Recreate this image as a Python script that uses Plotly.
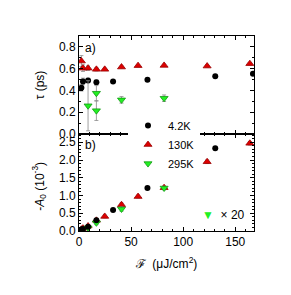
import plotly.graph_objects as go
from plotly.subplots import make_subplots

# ---- data ----
tau_x_4K = [2.3, 3.8, 8.7, 16.7, 32.7, 65.7, 130.8, 167]
tau_4K = [0.425, 0.483, 0.492, 0.476, 0.483, 0.498, 0.53, 0.554]
tau_4K_err = [0.03, 0.03, 0.02, 0.02, 0.01, 0.01, 0.01, 0.01]

tau_x_130K = [2.3, 3.8, 8.7, 16.7, 24.7, 40.8, 56.7, 81.7, 123, 164]
tau_130K = [0.67, 0.605, 0.605, 0.594, 0.594, 0.615, 0.628, 0.63, 0.624, 0.646]
tau_130K_err = [0.05, 0.03, 0.02, 0.015, 0.01, 0.01, 0.01, 0.01, 0.01, 0.01]

tau_x_295K = [8.7, 16.7, 16.7, 40.8, 81.7]
tau_295K = [0.26, 0.375, 0.215, 0.314, 0.329]
tau_295K_err = [0.23, 0.07, 0.09, 0.03, 0.03]

a_x_4K = [1.0, 2.3, 3.8, 8.7, 16.7, 32.7, 65.7, 130.8]
a_4K = [0.03, 0.04, 0.06, 0.12, 0.30, 0.59, 1.21, 2.33]

a_x_130K = [2.3, 3.8, 8.7, 16.7, 24.7, 40.8, 56.7, 81.7, 123, 164]
a_130K = [0.05, 0.08, 0.14, 0.30, 0.41, 0.74, 0.97, 1.22, 1.95, 2.47]
a_130K_err = [0.02, 0.02, 0.03, 0.04, 0.04, 0.05, 0.04, 0.04, 0.05, 0.05]

a_x_295K = [8.7, 16.7, 40.8, 81.7]
a_295K = [0.09, 0.23, 0.62, 1.21]
a_295K_err = [0.04, 0.05, 0.06, 0.05]

labels = ["4.2K", "130K", "295K"]

BLACK = "#000000"
RED = "#dd0000"
GREEN = "#22f022"
ERR = "#888888"
FONT = "Liberation Sans, Arial, sans-serif"

fig = make_subplots(rows=2, cols=1, shared_xaxes=True, vertical_spacing=0.0,
                    row_heights=[0.503, 0.497])

def eb(arr):
    return dict(type="data", array=arr, color=ERR, thickness=0.8, width=2)

# top panel
fig.add_trace(go.Scatter(x=tau_x_4K, y=tau_4K, mode="markers", name=labels[0],
                         error_y=eb(tau_4K_err),
                         marker=dict(symbol="circle", size=6, color=BLACK)), row=1, col=1)
fig.add_trace(go.Scatter(x=tau_x_130K, y=tau_130K, mode="markers", name=labels[1],
                         error_y=eb(tau_130K_err),
                         marker=dict(symbol="triangle-up", size=7, color=RED,
                                     line=dict(color="#990000", width=0.8))), row=1, col=1)
fig.add_trace(go.Scatter(x=tau_x_295K, y=tau_295K, mode="markers", name=labels[2],
                         error_y=eb(tau_295K_err),
                         marker=dict(symbol="triangle-down", size=7, color=GREEN,
                                     line=dict(color="#119911", width=0.8))), row=1, col=1)

# bottom panel
fig.add_trace(go.Scatter(x=a_x_130K, y=a_130K, mode="markers", showlegend=False,
                         error_y=eb(a_130K_err),
                         marker=dict(symbol="triangle-up", size=7, color=RED,
                                     line=dict(color="#990000", width=0.8))), row=2, col=1)
fig.add_trace(go.Scatter(x=a_x_295K, y=a_295K, mode="markers", showlegend=False,
                         error_y=eb(a_295K_err),
                         marker=dict(symbol="triangle-down", size=7, color=GREEN,
                                     line=dict(color="#119911", width=0.8))), row=2, col=1)
fig.add_trace(go.Scatter(x=a_x_4K, y=a_4K, mode="markers", showlegend=False,
                         marker=dict(symbol="circle", size=6, color=BLACK)), row=2, col=1)

axis_common = dict(showline=True, linecolor="black", linewidth=1, mirror="allticks",
                   ticks="inside", ticklen=4, tickcolor="black", showgrid=False,
                   zeroline=False, automargin=False,
                   tickfont=dict(family=FONT, size=12, color="black"))

fig.update_xaxes(range=[0, 168], dtick=50, tick0=0,
                 minor=dict(ticks="inside", dtick=10, ticklen=2, tickcolor="black"),
                 **axis_common)
fig.update_xaxes(showticklabels=False, row=1, col=1)
fig.update_xaxes(title=dict(text="ℱ  (μJ/cm<sup>2</sup>)", font=dict(family=FONT, size=12),
                            standoff=11), row=2, col=1)

fig.update_yaxes(range=[0, 0.9], dtick=0.2, tickformat=".1f",
                 minor=dict(ticks="inside", dtick=0.1, ticklen=2, tickcolor="black"),
                 row=1, col=1, **axis_common)
fig.update_yaxes(range=[0, 2.73], dtick=0.5, tickformat=".1f",
                 minor=dict(ticks="inside", dtick=0.1, ticklen=2, tickcolor="black"),
                 row=2, col=1, **axis_common)

# y-axis titles as rotated annotations
fig.add_annotation(text="τ (ps)", xref="paper", yref="paper", x=-0.225, y=0.75,
                   xanchor="center", yanchor="middle", textangle=-90, showarrow=False,
                   font=dict(family=FONT, size=12, color="black"))
fig.add_annotation(text="-<i>A</i><sub>0</sub> (10<sup>-3</sup>)", xref="paper", yref="paper",
                   x=-0.225, y=0.23, xanchor="center", yanchor="middle", textangle=-90,
                   showarrow=False, font=dict(family=FONT, size=12, color="black"))

fig.add_annotation(text="a)", xref="paper", yref="paper", x=0.02, y=0.985,
                   xanchor="left", yanchor="top", showarrow=False,
                   font=dict(family=FONT, size=12, color="black"))
fig.add_annotation(text="b)", xref="paper", yref="paper", x=0.02, y=0.485,
                   xanchor="left", yanchor="top", showarrow=False,
                   font=dict(family=FONT, size=12, color="black"))
fig.add_annotation(text="<span style='color:#22f022'>▼</span>  × 20", xref="paper", yref="paper",
                   x=0.69, y=0.08, xanchor="left", yanchor="middle", showarrow=False,
                   font=dict(family=FONT, size=12, color="black"))

fig.update_layout(
    width=291, height=295,
    margin=dict(l=71, r=45, t=28, b=72),
    paper_bgcolor="white", plot_bgcolor="white",
    font=dict(family=FONT, size=12, color="black"),
    legend=dict(x=0.28, y=0.615, xanchor="left", yanchor="top",
                bgcolor="white", borderwidth=0, font=dict(family=FONT, size=11),
                itemwidth=30, tracegroupgap=0),
)

fig.write_html("out.html")
